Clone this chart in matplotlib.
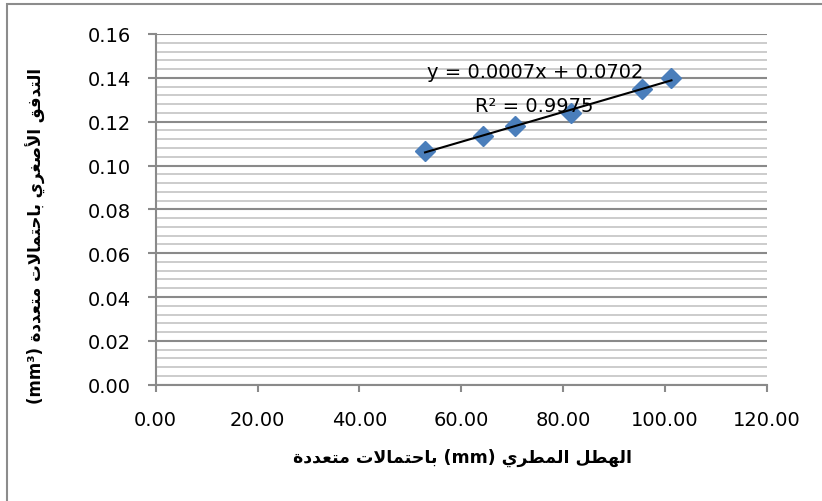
import numpy as np
import matplotlib
matplotlib.use("Agg")
import matplotlib.pyplot as plt
from matplotlib.patches import Rectangle

# Dados
hetl = [52.9, 64.2, 70.6, 81.5, 95.6, 101.3]          # الهطل المطري (mm)
tadafuq = [0.1068, 0.1133, 0.1182, 0.1238, 0.1349, 0.1399]  # التدفق الأصغري
x_ticks = [0, 20, 40, 60, 80, 100, 120]
y_ticks = [0.00, 0.02, 0.04, 0.06, 0.08, 0.10, 0.12, 0.14, 0.16]
eq_text = "y = 0.0007x + 0.0702"
r2_text = "R² = 0.9975"
x_label_words = ["الهطل", "المطري", "(mm)", "باحتمالات", "متعددة"]
y_label_words = ["التدفق", "الأصغري", "باحتمالات", "متعددة", "(mm³)"]

# Formas de apresentação árabes: isolada, final, inicial, medial
FORMS = {
    'ا': ('\uFE8D', '\uFE8E', None, None),
    'أ': ('\uFE83', '\uFE84', None, None),
    'ب': ('\uFE8F', '\uFE90', '\uFE91', '\uFE92'),
    'ة': ('\uFE93', '\uFE94', None, None),
    'ت': ('\uFE95', '\uFE96', '\uFE97', '\uFE98'),
    'ح': ('\uFEA1', '\uFEA2', '\uFEA3', '\uFEA4'),
    'د': ('\uFEA9', '\uFEAA', None, None),
    'ر': ('\uFEAD', '\uFEAE', None, None),
    'ص': ('\uFEB9', '\uFEBA', '\uFEBB', '\uFEBC'),
    'ط': ('\uFEC1', '\uFEC2', '\uFEC3', '\uFEC4'),
    'ع': ('\uFEC9', '\uFECA', '\uFECB', '\uFECC'),
    'غ': ('\uFECD', '\uFECE', '\uFECF', '\uFED0'),
    'ف': ('\uFED1', '\uFED2', '\uFED3', '\uFED4'),
    'ق': ('\uFED5', '\uFED6', '\uFED7', '\uFED8'),
    'ل': ('\uFEDD', '\uFEDE', '\uFEDF', '\uFEE0'),
    'م': ('\uFEE1', '\uFEE2', '\uFEE3', '\uFEE4'),
    'ه': ('\uFEE9', '\uFEEA', '\uFEEB', '\uFEEC'),
    'ي': ('\uFEF1', '\uFEF2', '\uFEF3', '\uFEF4'),
    'لا': ('\uFEFB', '\uFEFC', None, None),
    'لأ': ('\uFEF7', '\uFEF8', None, None),
}


def shape_word(w):
    if w[0] not in FORMS:
        return w
    units = []
    i = 0
    while i < len(w):
        if w[i] == 'ل' and i + 1 < len(w) and w[i + 1] in 'اأ':
            units.append(w[i:i + 2])
            i += 2
        else:
            units.append(w[i])
            i += 1
    out = []
    for k, u in enumerate(units):
        f = FORMS[u]
        prev_joins = k > 0 and FORMS[units[k - 1]][2] is not None
        next_joins = k < len(units) - 1 and f[2] is not None
        if prev_joins and next_joins:
            out.append(f[3])
        elif prev_joins:
            out.append(f[1])
        elif next_joins:
            out.append(f[2])
        else:
            out.append(f[0])
    return ''.join(reversed(out))


def rtl_label(words):
    return ' '.join(shape_word(w) for w in reversed(words))


plt.rcParams['font.family'] = ['DejaVu Sans']

fig = plt.figure(figsize=(8.22, 5.02), dpi=100)
ax = fig.add_axes([0.1894, 0.2317, 0.7433, 0.6986])

# moldura do gráfico
fig.patches.append(Rectangle((7 / 822, -0.05), 1.2, 497 / 502 + 0.05,
                             transform=fig.transFigure, fill=False,
                             edgecolor='#8c8c8c', linewidth=1.5))

ax.set_xlim(0, 120)
ax.set_ylim(0, 0.16)
ax.set_xticks(x_ticks)
ax.set_xticklabels([f"{v:.2f}" for v in x_ticks])
ax.set_yticks(y_ticks)
ax.set_yticklabels([f"{v:.2f}" for v in y_ticks])
ax.set_yticks(np.arange(0, 0.1601, 0.004), minor=True)

ax.grid(axis='y', which='major', color='#8a8a8a', linewidth=1.5, zorder=0)
ax.grid(axis='y', which='minor', color='#c4c4c4', linewidth=1.2, zorder=0)
ax.set_axisbelow(True)

for s in ['top', 'right']:
    ax.spines[s].set_visible(False)
for s in ['left', 'bottom']:
    ax.spines[s].set_color('#8a8a8a')
    ax.spines[s].set_linewidth(1.5)

ax.tick_params(axis='y', which='major', direction='out', length=6, width=1.5,
               color='#8a8a8a', pad=12, labelsize=14)
ax.tick_params(axis='y', which='minor', length=0)
ax.tick_params(axis='x', direction='out', length=5, width=1.5,
               color='#8a8a8a', pad=13, labelsize=14)

ax.plot(hetl, tadafuq, linestyle='none', marker='D', markersize=10.5,
        color='#4a7ebb', zorder=3)

# linha de tendência
coef = np.polyfit(hetl, tadafuq, 1)
xs = np.array([min(hetl), max(hetl)])
ax.plot(xs, np.polyval(coef, xs), color='black', linewidth=1.5, zorder=4)

fig.text(535 / 822, 1 - 73 / 502, eq_text, fontsize=14, ha='center', va='center')
fig.text(534 / 822, 1 - 107 / 502, r2_text, fontsize=14, ha='center', va='center')

fig.text(462 / 822, 1 - 458 / 502, rtl_label(x_label_words), fontsize=12.5,
         fontweight='bold', ha='center', va='center')
fig.text(36 / 822, 1 - 236 / 502, rtl_label(y_label_words), fontsize=12,
         fontweight='bold', ha='center', va='center', rotation=90)

fig.savefig('out.png', dpi=100)
